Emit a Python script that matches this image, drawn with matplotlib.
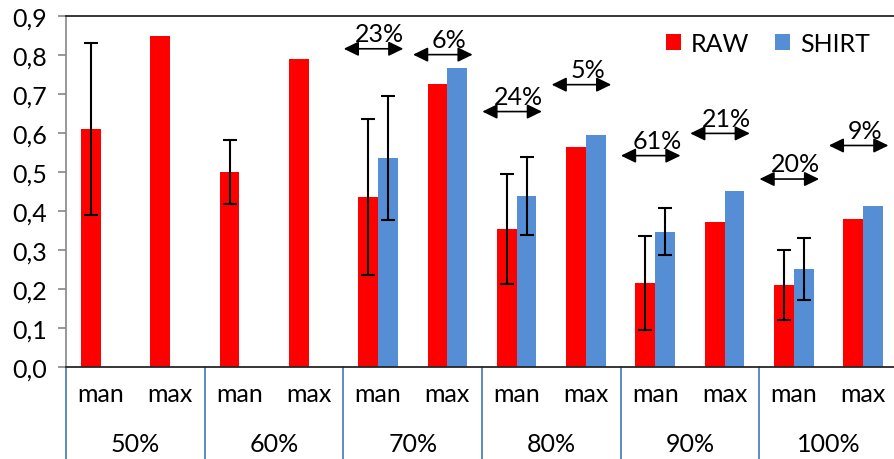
import numpy as np
import matplotlib
matplotlib.use("Agg")
import matplotlib.pyplot as plt
from matplotlib.ticker import FuncFormatter
import matplotlib.transforms as mtransforms

plt.rcParams['font.family'] = ['Lato', 'DejaVu Sans']

# data
groups = ["50%", "60%", "70%", "80%", "90%", "100%"]
sub_labels = ["man", "max"]
raw = [0.61, 0.85, 0.50, 0.79, 0.436, 0.725, 0.354, 0.565, 0.216, 0.373, 0.21, 0.38]
shirt = [np.nan, np.nan, np.nan, np.nan, 0.536, 0.767, 0.438, 0.595, 0.347, 0.451, 0.251, 0.412]
raw_err = [0.22, np.nan, 0.082, np.nan, 0.20, np.nan, 0.14, np.nan, 0.12, np.nan, 0.09, np.nan]
shirt_err = [np.nan, np.nan, np.nan, np.nan, 0.16, np.nan, 0.10, np.nan, 0.06, np.nan, 0.08, np.nan]

# gain annotations (category index, label, arrow height)
gain_idx = [4, 5, 6, 7, 8, 9, 10, 11]
gain_labels = ["23%", "6%", "24%", "5%", "61%", "21%", "20%", "9%"]
gain_y = [0.816, 0.801, 0.655, 0.724, 0.542, 0.599, 0.482, 0.568]

RED = "#FF0000"
BLUE = "#558ED5"
FS = 18

fig = plt.figure(figsize=(8.95, 4.6), dpi=100)
ax = fig.add_axes([0.074, 0.2, 0.926, 0.763])

x = np.arange(len(raw))
w = 0.285
ax.bar(x - w/2, raw, w, color=RED, label="RAW", zorder=2)
ax.bar(x + w/2, shirt, w, color=BLUE, label="SHIRT", zorder=2)
ekw = dict(fmt="none", ecolor="black", elinewidth=1.5, capsize=5, capthick=1.5, zorder=3)
ax.errorbar(x - w/2, raw, yerr=raw_err, **ekw)
ax.errorbar(x + w/2, shirt, yerr=shirt_err, **ekw)

ax.set_ylim(0, 0.9)
ax.set_xlim(-0.5, 11.46)
ax.set_yticks(np.arange(0, 0.91, 0.1))
ax.yaxis.set_major_formatter(FuncFormatter(lambda v, p: f"{v:.1f}".replace(".", ",")))
ax.tick_params(axis="y", length=6, width=1.2, color="#868686", pad=8, labelsize=FS)
ax.set_xticks(x)
ax.set_xticklabels([sub_labels[i % 2] for i in x])
ax.tick_params(axis="x", length=0, pad=11, labelsize=FS)

ax.spines["right"].set_visible(False)
ax.spines["left"].set_color("#868686")
ax.spines["left"].set_linewidth(1.2)
ax.spines["top"].set_color("#262626")
ax.spines["top"].set_linewidth(1.3)
ax.spines["bottom"].set_color("#262626")
ax.spines["bottom"].set_linewidth(1.3)

# group labels and separators under the axis
trans = mtransforms.blended_transform_factory(ax.transData, ax.transAxes)
for g, name in enumerate(groups):
    ax.text(2 * g + 0.5, -0.218, name, transform=trans, ha="center", va="center", fontsize=FS)
for s in range(len(groups)):
    ax.plot([2 * s - 0.5, 2 * s - 0.5], [0, -0.3], transform=trans, color="#4F81BD",
            lw=1.3, clip_on=False)

# double arrows with percentages
for i, lab, yv in zip(gain_idx, gain_labels, gain_y):
    c = i - 0.065
    ax.annotate("", xy=(c - 0.43, yv), xytext=(c + 0.43, yv),
                arrowprops=dict(arrowstyle="<|-|>,head_length=0.45,head_width=0.22",
                                mutation_scale=20, color="black", lw=1.2,
                                shrinkA=0, shrinkB=0), zorder=4)
    ax.text(c + 0.09, yv + 0.01, lab, ha="center", va="bottom", fontsize=FS, zorder=5)

ax.legend(loc="upper right", bbox_to_anchor=(0.997, 1.02), ncol=2, frameon=False,
          fontsize=FS, handlelength=0.6, handleheight=0.6, handletextpad=0.4,
          columnspacing=1.05)

fig.savefig("out.png", dpi=100)
